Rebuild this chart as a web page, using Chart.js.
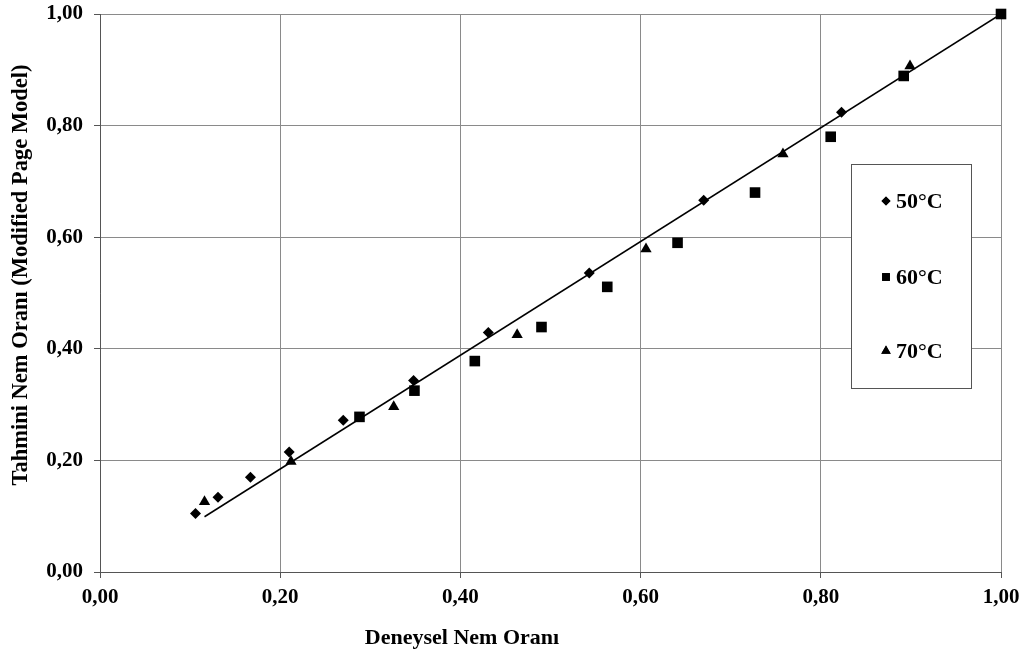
<!DOCTYPE html>
<html>
<head>
<meta charset="utf-8">
<script src="https://cdn.jsdelivr.net/npm/chart.js@4/dist/chart.umd.min.js"></script>
<style>
  html, body { margin: 0; padding: 0; background: #fff; }
  #wrap { width: 1029px; height: 659px; position: relative; }
</style>
</head>
<body>
<div id="wrap"><canvas id="chart"></canvas></div>
<script>
// Deneysel vs tahmini nem oranı — Modified Page modeli

const x50 = [0.106, 0.131, 0.167, 0.210, 0.270, 0.348, 0.431, 0.543, 0.670, 0.823];
const y50 = [0.105, 0.134, 0.170, 0.215, 0.272, 0.343, 0.429, 0.536, 0.666, 0.824];

const x60 = [0.288, 0.349, 0.416, 0.490, 0.563, 0.641, 0.727, 0.811, 0.892, 1.000];
const y60 = [0.278, 0.325, 0.378, 0.439, 0.511, 0.590, 0.680, 0.780, 0.889, 1.000];

const x70 = [0.116, 0.212, 0.326, 0.463, 0.606, 0.758, 0.899];
const y70 = [0.126, 0.198, 0.296, 0.425, 0.579, 0.749, 0.907];

// doğrusal eğilim çizgisi uçları
const trendX = [0.116, 1.000];
const trendY = [0.099, 1.000];

const seriesLabels = ["50°C", "60°C", "70°C"];
const xTitle = "Deneysel Nem Oranı";
const yTitle = "Tahmini Nem Oranı (Modified Page Model)";

const FONT = "'Liberation Serif', 'Times New Roman', serif";
const pts = (xs, ys) => xs.map((x, i) => ({ x, y: ys[i] }));
const fmt = (v) => v.toFixed(2).replace(".", ",");

// başlıklar + kutulu lejant (Excel tarzı)
const decor = {
  id: "decor",
  afterDraw(chart) {
    const ctx = chart.ctx;
    ctx.save();
    ctx.fillStyle = "#000";
    ctx.font = `bold 22px ${FONT}`;
    ctx.textAlign = "center";
    ctx.textBaseline = "middle";
    ctx.fillText(xTitle, 462, 638);
    ctx.font = `bold 22.5px ${FONT}`;
    ctx.translate(21, 275);
    ctx.rotate(-Math.PI / 2);
    ctx.fillText(yTitle, 0, 0);
    ctx.restore();

    // lejant kutusu
    ctx.save();
    ctx.fillStyle = "#fff";
    ctx.fillRect(851, 164, 120, 224);
    ctx.strokeStyle = "#555";
    ctx.lineWidth = 1;
    ctx.strokeRect(851.5, 164.5, 120, 224);
    const rows = [201, 277, 351];
    const sizes = [4.5, 5.5, 5.5];
    for (let i = 0; i < 3; i++) {
      const ds = chart.data.datasets[i];
      ctx.fillStyle = "#000";
      Chart.helpers.drawPoint(ctx, { pointStyle: ds.pointStyle, radius: sizes[i], borderWidth: 0 }, 886, rows[i]);
      ctx.fill();
      ctx.font = `bold 22px ${FONT}`;
      ctx.textAlign = "left";
      ctx.textBaseline = "middle";
      ctx.fillText(ds.label, 896, rows[i] + 1);
    }
    ctx.restore();
  },
};

new Chart(document.getElementById("chart"), {
  type: "scatter",
  data: {
    datasets: [
      { label: seriesLabels[0], data: pts(x50, y50), pointStyle: "rectRot", pointRadius: 5.5,
        backgroundColor: "#000", borderColor: "#000", borderWidth: 0, clip: false },
      { label: seriesLabels[1], data: pts(x60, y60), pointStyle: "rect", pointRadius: 7.5,
        backgroundColor: "#000", borderColor: "#000", borderWidth: 0, clip: false },
      { label: seriesLabels[2], data: pts(x70, y70), pointStyle: "triangle", pointRadius: 6.5,
        backgroundColor: "#000", borderColor: "#000", borderWidth: 0, clip: false },
      { label: "trend", data: pts(trendX, trendY), type: "line", showLine: true,
        pointRadius: 0, borderColor: "#000", borderWidth: 1.5, fill: false },
    ],
  },
  options: {
    responsive: true,
    maintainAspectRatio: false,
    animation: false,
    layout: { padding: { top: 14, right: 28, left: 0, bottom: 0 } },
    plugins: {
      legend: { display: false },
      tooltip: { enabled: false },
    },
    scales: {
      x: {
        type: "linear",
        min: 0,
        max: 1,
        afterFit: (s) => { s.height = 87; },
        ticks: {
          stepSize: 0.2,
          color: "#000",
          font: { family: FONT, size: 21, weight: "bold" },
          padding: 7,
          callback: fmt,
        },
        grid: { color: "#8a8a8a", lineWidth: 1, tickLength: 6, tickColor: "#555" },
        border: { color: "#555", width: 1 },
      },
      y: {
        type: "linear",
        min: 0,
        max: 1,
        afterFit: (s) => { s.width = 100; s.paddingTop = 0; s.paddingBottom = 0; },
        ticks: {
          stepSize: 0.2,
          color: "#000",
          font: { family: FONT, size: 21, weight: "bold" },
          padding: 11,
          callback: fmt,
        },
        grid: { color: "#8a8a8a", lineWidth: 1, tickLength: 6, tickColor: "#555" },
        border: { color: "#555", width: 1 },
      },
    },
  },
  plugins: [decor],
});
</script>
</body>
</html>
